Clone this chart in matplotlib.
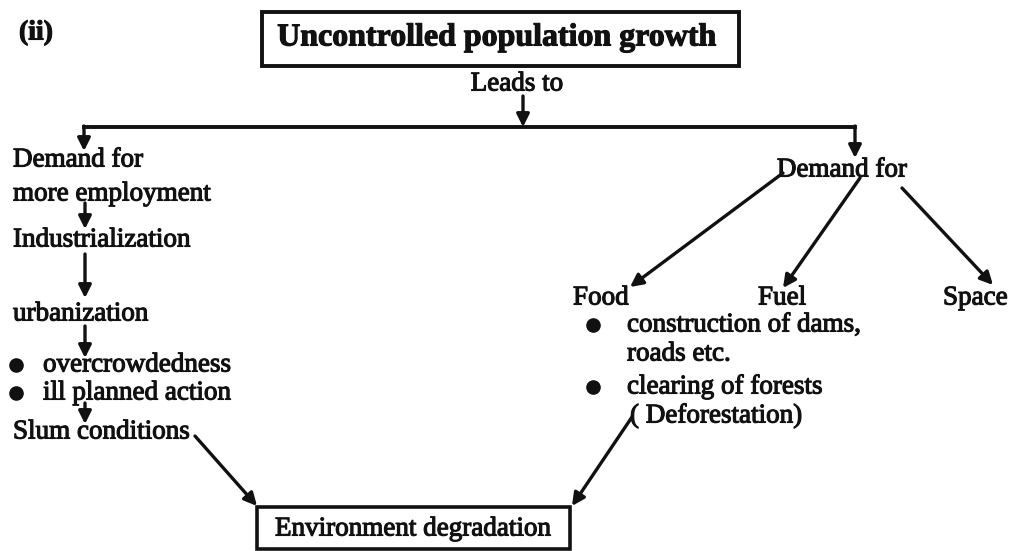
import matplotlib.pyplot as plt
from matplotlib.patches import Rectangle
import matplotlib.patheffects as pe

# labels of the flowchart
tag = "(ii)"
top_label = "Uncontrolled population growth"
link_label = "Leads to"
left_chain = ["Demand for", "more employment", "Industrialization", "urbanization"]
left_bullets = ["overcrowdedness", "ill planned action"]
left_end = "Slum conditions"
right_head = "Demand for"
needs = ["Food", "Fuel", "Space"]
right_lines = ["construction of dams,", "roads etc.", "clearing of forests", "( Deforestation)"]
right_bullet_rows = [0, 2]
bottom_label = "Environment degradation"

FONT = "Liberation Serif"
INK = "#111111"
BODY = 19.5
thick = [pe.withStroke(linewidth=0.8, foreground=INK)]


def txt(ax, x, y, s, size=BODY, weight="normal", ha="left"):
    ax.text(x, y, s, ha=ha, va="center", fontsize=size, fontweight=weight,
            family=FONT, color=INK, path_effects=thick)


def arrow(ax, x1, y1, x2, y2, lw=2.4, head=19):
    ax.annotate("", xy=(x2, y2), xytext=(x1, y1),
                arrowprops=dict(arrowstyle="-|>", lw=lw, color=INK,
                                mutation_scale=head, shrinkA=0, shrinkB=0))


def bullet(ax, x, y):
    ax.plot([x], [y], "o", color=INK, markersize=9.5)


fig = plt.figure(figsize=(10.21, 5.51), dpi=100)
ax = fig.add_axes([0, 0, 1, 1])
ax.set_xlim(0, 1021)
ax.set_ylim(551, 0)
ax.axis("off")

# top
txt(ax, 19, 33, tag, size=20, weight="bold")
ax.add_patch(Rectangle((262, 12), 477, 54, fill=False, edgecolor=INK, linewidth=2.8))
txt(ax, 497, 38, top_label, size=23, weight="bold", ha="center")
txt(ax, 517, 84, link_label, ha="center")
arrow(ax, 523, 96, 523, 127)

# split line
ax.plot([84, 855], [127, 127], color=INK, linewidth=2.8, solid_capstyle="projecting")
arrow(ax, 84, 126, 84, 151)
arrow(ax, 855, 126, 855, 158)

# left branch
left_y = [160, 194, 240, 314]
for s, y in zip(left_chain, left_y):
    txt(ax, 13, y, s)
arrow(ax, 85, 203, 85, 229)
arrow(ax, 85, 254, 85, 298)
arrow(ax, 85, 326, 85, 358)
for s, y in zip(left_bullets, [365, 393]):
    bullet(ax, 16, y)
    txt(ax, 43, y, s)
arrow(ax, 85, 403, 85, 424)
txt(ax, 13, 432, left_end)
arrow(ax, 195, 436, 257, 506)

# right branch
txt(ax, 842, 170, right_head, ha="center")
arrow(ax, 783, 173, 630, 287)
arrow(ax, 860, 178, 783, 288)
arrow(ax, 902, 188, 993, 285)
for s, x in zip(needs, [573, 758, 943]):
    txt(ax, x, 298, s)
right_y = [325, 354, 387, 416]
for i, (s, y) in enumerate(zip(right_lines, right_y)):
    if i in right_bullet_rows:
        bullet(ax, 593, y)
    txt(ax, 627 if i < 3 else 630, y, s)
arrow(ax, 632, 417, 572, 506)

# bottom
ax.add_patch(Rectangle((257, 507), 313, 42, fill=False, edgecolor=INK, linewidth=2.6))
txt(ax, 413, 529, bottom_label, ha="center")

fig.savefig("out.png", dpi=100)
